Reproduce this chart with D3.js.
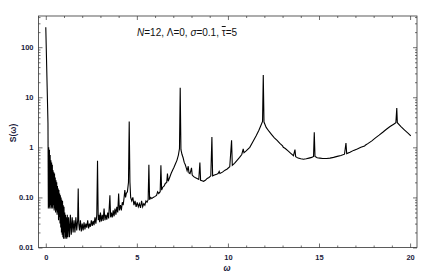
<!DOCTYPE html>
<html>
<head>
<script src="https://d3js.org/d3.v7.min.js"></script>
<style>
  body { margin: 0; background: #fff; }
  .tick text { font-family: "Liberation Sans", Arial, sans-serif; font-size: 7.5px; font-weight: bold; fill: #1c1c3c; }
  .domain { display: none; }
  .tick line { stroke: #333; stroke-width: 0.7; }
</style>
</head>
<body>
<svg id="chart" width="439" height="275"></svg>
<script>
// spectrum S(omega)
var omega = [0, 0.12, 0.14, 0.16, 0.18, 0.2, 0.22, 0.24, 0.26, 0.28, 0.3, 0.32, 0.34, 0.36, 0.38, 0.4, 0.42, 0.44, 0.46, 0.48,
  0.5, 0.52, 0.54, 0.56, 0.58, 0.6, 0.62, 0.64, 0.66, 0.68, 0.7, 0.72, 0.74, 0.76, 0.78, 0.8, 0.82, 0.84, 0.86, 0.88,
  0.9, 0.92, 0.94, 0.96, 0.98, 1.0, 1.02, 1.04, 1.06, 1.08, 1.1, 1.12, 1.15, 1.18, 1.21,
  1.25, 1.3, 1.35, 1.4, 1.45, 1.5, 1.55, 1.6, 1.65, 1.7, 1.75,
  1.78, 1.81, 1.85, 1.9, 1.95, 2.0, 2.05, 2.1, 2.15, 2.2, 2.25, 2.3, 2.35, 2.4, 2.45, 2.5, 2.55, 2.6, 2.65, 2.7,
  2.75, 2.8, 2.84, 2.88, 2.92, 2.96, 3.0, 3.05, 3.1, 3.15, 3.2, 3.25, 3.3, 3.35, 3.4, 3.45, 3.52, 3.56, 3.6, 3.65,
  3.7, 3.75, 3.8, 3.85, 3.9, 3.95, 4.0, 4.04, 4.1, 4.15, 4.2, 4.25, 4.3, 4.34, 4.38, 4.42, 4.48, 4.54, 4.58, 4.62,
  4.66, 4.72, 4.78, 4.84, 4.9, 4.96, 5.02, 5.08, 5.14, 5.2, 5.26, 5.32, 5.38, 5.44, 5.5, 5.56, 5.62, 5.66, 5.7, 5.76,
  5.82, 5.9, 6.0, 6.08, 6.14, 6.2, 6.28, 6.32, 6.36, 6.42, 6.5, 6.56, 6.64, 6.68, 6.72, 6.8, 6.88, 6.96, 7.04, 7.12,
  7.2, 7.28, 7.34, 7.38, 7.42, 7.48, 7.54, 7.6, 7.66, 7.72, 7.76, 7.82, 7.86, 7.92, 8.0, 8.04, 8.12, 8.2, 8.3, 8.4,
  8.46, 8.5, 8.58, 8.66, 8.76, 8.86, 8.96, 9.06, 9.12, 9.16, 9.26, 9.38, 9.46, 9.52, 9.56, 9.7, 9.84, 9.96, 10.1, 10.2,
  10.24, 10.36, 10.5, 10.64, 10.76, 10.84, 10.88, 11.0, 11.2, 11.4, 11.55, 11.7, 11.82, 11.9, 11.94, 11.98, 12.1, 12.25, 12.4, 12.55,
  12.7, 12.85, 13.0, 13.04, 13.15, 13.3, 13.45, 13.6, 13.68, 13.72, 13.85, 14.0, 14.15, 14.3, 14.45, 14.6, 14.7, 14.74, 14.78, 14.9,
  15.05, 15.2, 15.42, 15.6, 15.8, 16.0, 16.2, 16.4, 16.48, 16.52, 16.7, 16.9, 17.1, 17.3, 17.5, 17.54, 17.7, 17.9, 18.1, 18.3,
  18.5, 18.7, 18.9, 19.1, 19.22, 19.27, 19.3, 19.5, 19.7, 19.9, 20.04];
var spectrum = [250, 3.0, 0.06, 1.0, 0.065, 0.9, 0.06, 0.7, 0.07, 0.55, 0.06, 0.5, 0.065, 0.45, 0.06, 0.35, 0.07, 0.32, 0.055, 0.3,
  0.06, 0.25, 0.05, 0.22, 0.055, 0.2, 0.045, 0.17, 0.05, 0.15, 0.035, 0.14, 0.04, 0.12, 0.03, 0.11, 0.025, 0.1, 0.02, 0.09,
  0.018, 0.085, 0.016, 0.07, 0.015, 0.065, 0.02, 0.05, 0.015, 0.045, 0.016, 0.04, 0.015, 0.045, 0.016,
  0.04, 0.016, 0.045, 0.018, 0.04, 0.02, 0.035, 0.02, 0.04, 0.022, 0.035,
  0.15, 0.03, 0.022, 0.035, 0.021, 0.03, 0.022, 0.032, 0.023, 0.03, 0.025, 0.035, 0.024, 0.03, 0.026, 0.035, 0.027, 0.034, 0.028, 0.04,
  0.03, 0.045, 0.54, 0.035, 0.045, 0.032, 0.05, 0.033, 0.045, 0.034, 0.06, 0.035, 0.045, 0.036, 0.05, 0.038, 0.11, 0.04, 0.05, 0.04,
  0.055, 0.042, 0.06, 0.045, 0.065, 0.05, 0.12, 0.055, 0.07, 0.055, 0.08, 0.07, 0.1, 0.14, 0.1, 0.12, 0.13, 0.2, 3.3, 0.2,
  0.1, 0.085, 0.1, 0.07, 0.085, 0.065, 0.08, 0.065, 0.075, 0.062, 0.085, 0.065, 0.075, 0.07, 0.085, 0.08, 0.09, 0.45, 0.09, 0.1,
  0.095, 0.1, 0.105, 0.11, 0.13, 0.12, 0.13, 0.44, 0.14, 0.16, 0.17, 0.19, 0.2, 0.3, 0.21, 0.25, 0.3, 0.35, 0.4, 0.47,
  0.55, 0.7, 0.95, 15.5, 0.9, 0.72, 0.62, 0.5, 0.45, 0.38, 0.34, 0.42, 0.31, 0.3, 0.39, 0.28, 0.26, 0.25, 0.24, 0.23,
  0.5, 0.22, 0.215, 0.21, 0.22, 0.24, 0.25, 0.27, 1.6, 0.27, 0.28, 0.29, 0.3, 0.33, 0.3, 0.32, 0.35, 0.37, 0.41, 1.38,
  0.44, 0.48, 0.55, 0.63, 0.72, 0.93, 0.78, 0.85, 1.0, 1.35, 1.7, 2.2, 2.8, 3.3, 28, 3.2, 2.5, 2.1, 1.8, 1.55,
  1.38, 1.2, 1.07, 1.0, 0.95, 0.85, 0.76, 0.68, 0.9, 0.65, 0.61, 0.59, 0.58, 0.59, 0.61, 0.63, 0.66, 2.0, 0.66, 0.62,
  0.61, 0.6, 0.6, 0.61, 0.63, 0.66, 0.69, 0.73, 1.22, 0.75, 0.8, 0.87, 0.93, 1.0, 1.06, 1.1, 1.2, 1.35, 1.55, 1.75,
  2.0, 2.3, 2.6, 2.9, 3.1, 6.1, 3.1, 2.6, 2.2, 1.9, 1.7];

var xMajor = [0, 5, 10, 15, 20];
var yMajor = [0.01, 0.1, 1, 10, 100];
var yLabels = ["0.01", "0.10", "1", "10", "100"];

var svg = d3.select("#chart");
var frameL = 38.5, frameR = 417, frameT = 16, frameB = 247.5;

var x = d3.scaleLinear().domain([-0.4, 20.38]).range([frameL, frameR]);
var y = d3.scaleLog().domain([0.01, 420]).range([frameB, frameT]);

var xMinor = d3.range(0, 21, 1).filter(function(d) { return d % 5 != 0; });
var yMinor = y.ticks().filter(function(d) { return yMajor.indexOf(d) < 0; });

// ticks on all four sides, pointing inward
svg.append("g").attr("transform", "translate(0," + frameB + ")")
  .call(d3.axisBottom(x).tickValues(xMajor).tickSize(-4).tickPadding(7).tickFormat(d3.format("d")));
svg.append("g").attr("transform", "translate(0," + frameB + ")")
  .call(d3.axisBottom(x).tickValues(xMinor).tickSize(-2).tickFormat(""));
svg.append("g").attr("transform", "translate(0," + frameT + ")")
  .call(d3.axisTop(x).tickValues(xMajor).tickSize(-4).tickFormat(""));
svg.append("g").attr("transform", "translate(0," + frameT + ")")
  .call(d3.axisTop(x).tickValues(xMinor).tickSize(-2).tickFormat(""));

svg.append("g").attr("transform", "translate(" + frameL + ",0)")
  .call(d3.axisLeft(y).tickValues(yMajor).tickSize(-4).tickPadding(5)
    .tickFormat(function(d, i) { return yLabels[i]; }));
svg.append("g").attr("transform", "translate(" + frameL + ",0)")
  .call(d3.axisLeft(y).tickValues(yMinor).tickSize(-2).tickFormat(""));
svg.append("g").attr("transform", "translate(" + frameR + ",0)")
  .call(d3.axisRight(y).tickValues(yMajor).tickSize(-4).tickFormat(""));
svg.append("g").attr("transform", "translate(" + frameR + ",0)")
  .call(d3.axisRight(y).tickValues(yMinor).tickSize(-2).tickFormat(""));

// frame
svg.append("rect")
  .attr("x", frameL).attr("y", frameT)
  .attr("width", frameR - frameL).attr("height", frameB - frameT)
  .attr("fill", "none").attr("stroke", "#333").attr("stroke-width", 0.8);

var pts = omega.map(function(w, i) { return [w, spectrum[i]]; });
var line = d3.line().x(function(d) { return x(d[0]); }).y(function(d) { return y(d[1]); });

svg.append("path")
  .datum(pts)
  .attr("d", line)
  .attr("fill", "none")
  .attr("stroke", "#000")
  .attr("stroke-width", 1.1)
  .attr("stroke-linejoin", "miter");

// title text
var t = svg.append("text")
  .attr("x", 137).attr("y", 36)
  .attr("font-family", "Liberation Sans, Arial, sans-serif")
  .attr("font-size", 10)
  .attr("fill", "#111");
t.append("tspan").attr("font-style", "italic").text("N");
t.append("tspan").text("=12, \u039B=0, ");
t.append("tspan").attr("font-style", "italic").text("\u03C3");
t.append("tspan").text("=0.1, ");
t.append("tspan").attr("text-decoration", "overline").text("\u03C4");
t.append("tspan").text("=5");

// axis labels
svg.append("text")
  .attr("transform", "translate(16,133) rotate(-90)")
  .attr("text-anchor", "middle")
  .attr("font-family", "Liberation Sans, Arial, sans-serif")
  .attr("font-size", 8.5).attr("font-weight", "bold").attr("fill", "#1c1c3c")
  .text("S(\u03C9)");

svg.append("text")
  .attr("x", 227).attr("y", 271)
  .attr("text-anchor", "middle")
  .attr("font-family", "Liberation Sans, Arial, sans-serif")
  .attr("font-size", 8.5).attr("font-weight", "bold").attr("font-style", "italic").attr("fill", "#1c1c3c")
  .text("\u03C9");
</script>
</body>
</html>
